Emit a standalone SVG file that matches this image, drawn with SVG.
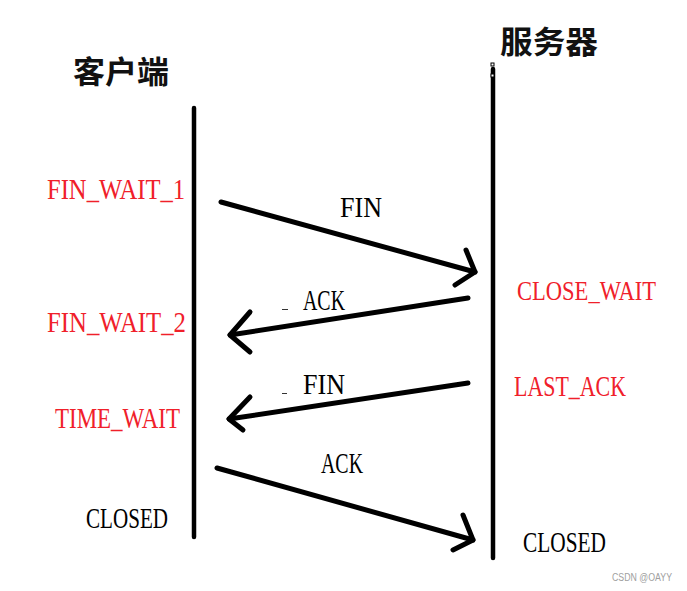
<svg xmlns="http://www.w3.org/2000/svg" width="687" height="591" viewBox="0 0 687 591">
<style>
.t{font-family:"Liberation Serif","Noto Sans CJK SC",serif;font-size:29px}
.red{fill:#f0202a}
.blk{fill:#000}
.title{font-family:"Noto Sans CJK SC","Liberation Serif",sans-serif;font-size:31px;font-weight:bold;fill:#111}
.life{stroke:#000;stroke-width:4.5;stroke-linecap:round;fill:none}
.msg{stroke:#000;stroke-width:5;stroke-linecap:round;stroke-linejoin:round;fill:none}
</style>
<rect width="687" height="591" fill="#fff"/>
<g id="client">
<text class="title" x="73" y="83" textLength="96" lengthAdjust="spacingAndGlyphs">客户端</text>
<line class="life" x1="194" y1="108" x2="194" y2="537"/>
</g>
<g id="server">
<text class="title" x="500" y="53" textLength="98" lengthAdjust="spacingAndGlyphs">服务器</text>
<line class="life" x1="493" y1="69" x2="493" y2="558"/>
<rect x="491" y="63" width="3" height="3" fill="#fff" stroke="#000" stroke-width="1"/>
<rect x="491" y="74" width="3" height="3" fill="#fff" stroke="#000" stroke-width="1"/>
</g>
<g id="states">
<text class="t red" x="47" y="199" textLength="138" lengthAdjust="spacingAndGlyphs">FIN_WAIT_1</text>
<text class="t red" x="47" y="332" textLength="139" lengthAdjust="spacingAndGlyphs">FIN_WAIT_2</text>
<text class="t red" x="55" y="428" textLength="125" lengthAdjust="spacingAndGlyphs">TIME_WAIT</text>
<text class="t blk" x="86" y="528" textLength="82" lengthAdjust="spacingAndGlyphs">CLOSED</text>
<text class="t red" x="517" y="300" font-size="27" style="font-size:27px" textLength="139" lengthAdjust="spacingAndGlyphs">CLOSE_WAIT</text>
<text class="t red" x="514" y="396" textLength="112" lengthAdjust="spacingAndGlyphs">LAST_ACK</text>
<text class="t blk" x="523" y="552" textLength="83" lengthAdjust="spacingAndGlyphs">CLOSED</text>
</g>
<g id="connectors">
<polyline class="msg" points="221,202 475,272"/>
<polyline class="msg" points="466,250 475,272 455,285"/>
<polyline class="msg" points="468,298 230,335"/>
<polyline class="msg" points="250,312 230,335 250,352"/>
<polyline class="msg" points="468,383 229,419"/>
<polyline class="msg" points="250,397 229,419 243,430"/>
<polyline class="msg" points="217,468 473,540"/>
<polyline class="msg" points="463,515 473,540 453,550"/>
</g>
<g id="labels">
<text class="t blk" x="340" y="217" textLength="42" lengthAdjust="spacingAndGlyphs">FIN</text>
<text class="t blk" x="303" y="310" textLength="42" lengthAdjust="spacingAndGlyphs">ACK</text>
<line x1="282" y1="309.5" x2="288" y2="309.5" stroke="#333" stroke-width="1"/>
<text class="t blk" x="303" y="394" textLength="42" lengthAdjust="spacingAndGlyphs">FIN</text>
<line x1="282" y1="393.5" x2="287" y2="393.5" stroke="#333" stroke-width="1"/>
<text class="t blk" x="321" y="473" textLength="42" lengthAdjust="spacingAndGlyphs">ACK</text>
</g>
<text x="612" y="581" font-family="Liberation Sans, sans-serif" font-size="10" fill="#a0a0a0" textLength="60" lengthAdjust="spacingAndGlyphs">CSDN @OAYY</text>
</svg>
